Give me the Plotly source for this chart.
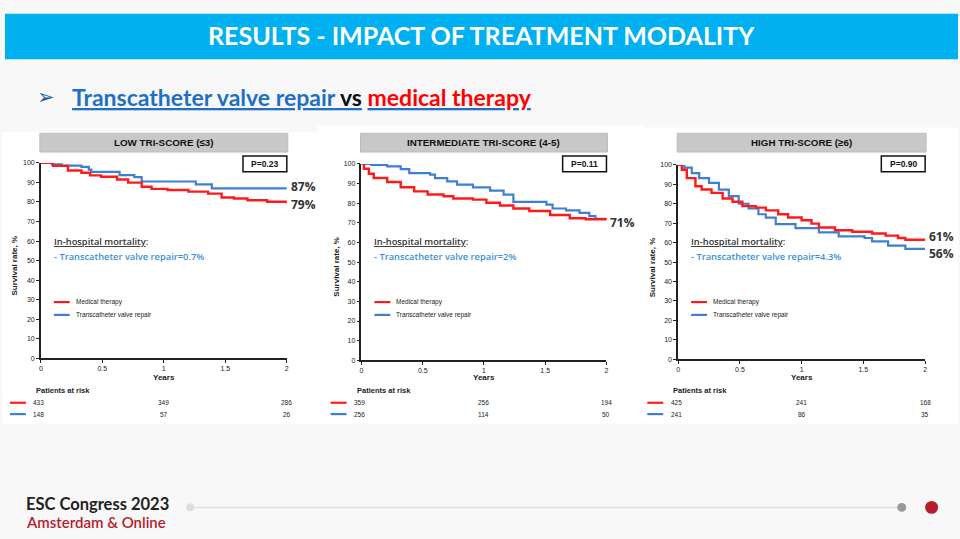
import plotly.graph_objects as go

W, H = 960, 539

# ---------------- data ----------------
panel_titles = ["LOW TRI-SCORE (≤3)", "INTERMEDIATE TRI-SCORE (4-5)", "HIGH TRI-SCORE (≥6)"]
p_values = ["P=0.23", "P=0.11", "P=0.90"]
inhosp_mortality = ["0.7%", "2%", "4.3%"]

# Low TRI-SCORE
low_med_t = [0, 0.10, 0.22, 0.33, 0.40, 0.49, 0.62, 0.71, 0.82, 0.90, 1.03, 1.20, 1.36, 1.47, 1.57, 1.68, 1.84, 2.0]
low_med_s = [100, 98.5, 96.1, 95.0, 93.6, 92.9, 91.5, 89.9, 87.8, 86.7, 86.1, 85.3, 84.3, 82.3, 81.8, 80.9, 80.1, 79.3]
low_tvr_t = [0, 0.09, 0.17, 0.33, 0.39, 0.41, 0.64, 0.76, 0.82, 1.26, 1.39, 2.0]
low_tvr_s = [100, 99.2, 98.6, 98.0, 96.6, 95.4, 93.7, 92.7, 90.5, 89.0, 87.0, 87.0]

# Intermediate TRI-SCORE
int_med_t = [0, 0.02, 0.06, 0.10, 0.21, 0.32, 0.43, 0.54, 0.67, 0.75, 0.91, 1.02, 1.13, 1.24, 1.37, 1.54, 1.70, 1.83, 2.0]
int_med_s = [100, 97.5, 95.0, 92.8, 90.8, 88.1, 86.0, 84.4, 83.5, 82.4, 81.8, 80.2, 78.8, 77.3, 76.0, 74.0, 72.3, 71.8, 71.4]
int_tvr_t = [0, 0.08, 0.21, 0.32, 0.39, 0.56, 0.60, 0.70, 0.78, 0.91, 1.05, 1.16, 1.24, 1.51, 1.56, 1.67, 1.78, 1.86, 1.91, 2.0]
int_tvr_s = [100, 99.5, 98.7, 97.3, 95.3, 94.5, 92.8, 91.1, 89.4, 88.0, 86.4, 84.4, 80.7, 79.3, 77.3, 76.3, 75.1, 73.4, 72.0, 71.6]

# High TRI-SCORE
high_med_t = [0, 0.03, 0.07, 0.14, 0.19, 0.27, 0.36, 0.44, 0.52, 0.63, 0.71, 0.81, 0.89, 1.00, 1.08, 1.14, 1.27, 1.41, 1.57, 1.68, 1.78, 1.84, 2.0]
high_med_s = [100, 97.5, 93.2, 89.0, 87.3, 85.6, 82.7, 81.0, 78.8, 78.0, 76.6, 74.6, 72.9, 71.5, 69.8, 67.8, 66.4, 65.6, 64.7, 63.6, 62.4, 61.5, 61.2]
high_tvr_t = [0, 0.05, 0.11, 0.17, 0.25, 0.33, 0.41, 0.49, 0.57, 0.65, 0.71, 0.79, 0.95, 1.14, 1.30, 1.51, 1.57, 1.70, 1.84, 2.0]
high_tvr_s = [100, 98.6, 95.8, 93.2, 90.7, 87.3, 83.9, 80.0, 77.6, 74.6, 72.9, 69.5, 67.5, 65.3, 63.2, 62.4, 60.7, 58.5, 56.8, 56.6]

end_labels_med = ["79%", "71%", "61%"]
end_labels_tvr = ["87%", None, "56%"]

risk_times = [0, 1, 2]
risk_med = [[433, 349, 286], [359, 256, 194], [425, 241, 168]]
risk_tvr = [[148, 57, 26], [256, 114, 50], [241, 86, 35]]

x_ticks = [0, 0.5, 1, 1.5, 2]
x_tick_text = ["0", "0.5", "1", "1.5", "2"]
y_ticks = list(range(0, 101, 10))

# ---------------- styles / layout helpers ----------------
RED = "#ff1a1a"
BLUE = "#3f7fd0"
LBLUE = "#3b8fd6"
series = [
    (low_med_t, low_med_s, low_tvr_t, low_tvr_s),
    (int_med_t, int_med_s, int_tvr_t, int_tvr_s),
    (high_med_t, high_med_s, high_tvr_t, high_tvr_s),
]
# plot-area pixel boxes: (x0, x1, ytop, ybottom)
boxes = [(39, 286, 161, 359), (361, 607, 162, 361), (679, 927, 163, 360)]
# vertical pixel nudges of end labels (med, tvr) so they don't collide
label_shift = [(-1.5, 1.5), (-2, 0), (4, -4)]

def px(x):
    return x / W

def py(y):
    return 1 - y / H

fig = go.Figure()
shapes = []
annotations = []

# slide background panels
shapes.append(dict(type="rect", xref="paper", yref="paper", x0=px(0), x1=px(317), y0=py(425), y1=py(130),
                   fillcolor="white", line=dict(width=0), layer="below"))
shapes.append(dict(type="rect", xref="paper", yref="paper", x0=px(317), x1=px(645), y0=py(425), y1=py(123),
                   fillcolor="white", line=dict(width=0), layer="below"))
shapes.append(dict(type="rect", xref="paper", yref="paper", x0=px(645), x1=px(960), y0=py(425), y1=py(125),
                   fillcolor="white", line=dict(width=0), layer="below"))

# title bar
shapes.append(dict(type="rect", xref="paper", yref="paper", x0=px(3), x1=px(960), y0=py(56), y1=py(10),
                   fillcolor="#00b0f0", line=dict(width=0), layer="below"))
annotations.append(dict(xref="paper", yref="paper", x=px(482), y=py(31), text="<b>RESULTS - IMPACT OF TREATMENT MODALITY</b>",
                        showarrow=False, xanchor="center", yanchor="middle",
                        font=dict(family="Lato", size=25, color="white")))

# subtitle
annotations.append(dict(xref="paper", yref="paper", x=px(33), y=py(94), text="➢", showarrow=False,
                        xanchor="left", yanchor="middle", font=dict(family="DejaVu Sans", size=21, color="#1f5fa8")))
annotations.append(dict(xref="paper", yref="paper", x=px(68), y=py(94),
                        text=("<b><u><span style='color:#1f6fc6'>Transcatheter valve repair </span></u>"
                              "<u><span style='color:#111111'>vs</span></u> "
                              "<u><span style='color:#ff0000'>medical therapy</span></u></b>"),
                        showarrow=False, xanchor="left", yanchor="middle",
                        font=dict(family="Lato", size=23, color="#1f6fc6")))

for i, (mt, ms, tt, ts) in enumerate(series):
    x0, x1, yt, yb = boxes[i]
    n = "" if i == 0 else str(i + 1)
    xa, ya = "x" + n, "y" + n
    fig.add_trace(go.Scatter(x=tt, y=ts, mode="lines", line=dict(color=BLUE, width=2.2, shape="hv"),
                             xaxis=xa, yaxis=ya, showlegend=False, hoverinfo="skip"))
    fig.add_trace(go.Scatter(x=mt, y=ms, mode="lines", line=dict(color=RED, width=2.4, shape="hv"),
                             xaxis=xa, yaxis=ya, showlegend=False, hoverinfo="skip"))
    axis_common = dict(showgrid=False, zeroline=False, showline=True, linecolor="#222", linewidth=1.5,
                       ticks="outside", ticklen=3, tickwidth=1, tickcolor="#222",
                       tickfont=dict(family="Liberation Sans", size=7, color="#222"))
    fig.update_layout(**{
        ("xaxis" + n): dict(domain=[px(x0), px(x1)], range=[0, 2], tickvals=x_ticks, ticktext=x_tick_text,
                            anchor=ya, fixedrange=True, **axis_common),
        ("yaxis" + n): dict(domain=[py(yb), py(yt)], range=[0, 100], tickvals=y_ticks,
                            anchor=xa, fixedrange=True, **axis_common),
    })
    # axis titles
    annotations.append(dict(xref="paper", yref="paper", x=px((x0 + x1) / 2), y=py(378), text="<b>Years</b>",
                            showarrow=False, xanchor="center", yanchor="middle",
                            font=dict(family="Liberation Sans", size=8, color="#222")))
    annotations.append(dict(xref="paper", yref="paper", x=px(x0 - 26), y=py((yt + yb) / 2 + 5),
                            text="<b>Survival rate, %</b>", textangle=-90,
                            showarrow=False, xanchor="center", yanchor="middle",
                            font=dict(family="Liberation Sans", size=8, color="#222")))
    # header bar
    shapes.append(dict(type="rect", xref="paper", yref="paper", x0=px(x0 - 1), x1=px(x1 + 1), y0=py(150), y1=py(131),
                       fillcolor="#c8c8c8", line=dict(color="#bdbdbd", width=1)))
    annotations.append(dict(xref="paper", yref="paper", x=px((x0 + x1) / 2), y=py(140.5),
                            text="<b>" + panel_titles[i] + "</b>", showarrow=False,
                            xanchor="center", yanchor="middle",
                            font=dict(family="Liberation Sans", size=9.8, color="#111")))
    # P box
    shapes.append(dict(type="rect", xref="paper", yref="paper", x0=px(x1 - 44), x1=px(x1), y0=py(170), y1=py(154),
                       fillcolor="white", line=dict(color="#111", width=1.5)))
    annotations.append(dict(xref="paper", yref="paper", x=px(x1 - 22), y=py(162),
                            text="<b>" + p_values[i] + "</b>", showarrow=False,
                            xanchor="center", yanchor="middle",
                            font=dict(family="Liberation Sans", size=8.5, color="#111")))
    # end labels
    for lab, val, sh in ((end_labels_med[i], ms[-1], label_shift[i][0]), (end_labels_tvr[i], ts[-1], label_shift[i][1])):
        if lab is None:
            continue
        annotations.append(dict(xref=xa, yref=ya, x=2, y=val, text="<b>" + lab + "</b>", showarrow=False,
                                xanchor="left", yanchor="middle", xshift=3, yshift=sh, borderpad=0,
                                font=dict(family="Open Sans", size=12, color="#333")))
    # in-hospital mortality text
    annotations.append(dict(xref="paper", yref="paper", x=px(x0 + 11), y=py(240.5),
                            text="<u>In-hospital mortality</u>:", showarrow=False,
                            xanchor="left", yanchor="middle",
                            font=dict(family="Open Sans", size=9.3, color="#333", weight=600)))
    annotations.append(dict(xref="paper", yref="paper", x=px(x0 + 11), y=py(256),
                            text="- Transcatheter valve repair=" + inhosp_mortality[i], showarrow=False,
                            xanchor="left", yanchor="middle",
                            font=dict(family="Open Sans", size=9.3, color=LBLUE, weight=600)))
    # legend
    for j, (lab, col, yy) in enumerate((("Medical therapy", RED, 302), ("Transcatheter valve repair", BLUE, 315))):
        shapes.append(dict(type="line", xref="paper", yref="paper", x0=px(x0 + 13), x1=px(x0 + 29),
                           y0=py(yy), y1=py(yy), line=dict(color=col, width=2.2)))
        annotations.append(dict(xref="paper", yref="paper", x=px(x0 + 33), y=py(yy), text=lab, showarrow=False,
                                xanchor="left", yanchor="middle",
                                font=dict(family="Liberation Sans", size=6.5, color="#222")))
    # patients at risk
    annotations.append(dict(xref="paper", yref="paper", x=px(x0 - 7), y=py(392), text="<b>Patients at risk</b>",
                            showarrow=False, xanchor="left", yanchor="middle",
                            font=dict(family="Liberation Sans", size=7.5, color="#222")))
    for row, col, yy in ((risk_med[i], RED, 404), (risk_tvr[i], BLUE, 415.5)):
        shapes.append(dict(type="line", xref="paper", yref="paper", x0=px(x0 - 31), x1=px(x0 - 15),
                           y0=py(yy), y1=py(yy), line=dict(color=col, width=2.2)))
        for t, v in zip(risk_times, row):
            annotations.append(dict(xref=xa, yref="paper", x=t, y=py(yy), text=str(v), showarrow=False,
                                    xanchor="center", yanchor="middle", xshift=-2 if t == 0 else 0,
                                    font=dict(family="Liberation Sans", size=6.5, color="#222")))

# footer
annotations.append(dict(xref="paper", yref="paper", x=px(22), y=py(507), text="<b>ESC Congress 2023</b>",
                        showarrow=False, xanchor="left", yanchor="middle",
                        font=dict(family="Lato", size=16.5, color="#222")))
annotations.append(dict(xref="paper", yref="paper", x=px(22), y=py(525), text="Amsterdam & Online",
                        showarrow=False, xanchor="left", yanchor="middle",
                        font=dict(family="Lato", size=15, color="#b71c2c", weight=600)))
shapes.append(dict(type="line", xref="paper", yref="paper", x0=px(189), x1=px(904), y0=py(510), y1=py(510),
                   line=dict(color="#e0e0e0", width=1.5)))
shapes.append(dict(type="circle", xref="paper", yref="paper", x0=px(185), x1=px(193), y0=py(514), y1=py(506),
                   fillcolor="#dddddd", line=dict(width=0)))
shapes.append(dict(type="circle", xref="paper", yref="paper", x0=px(899), x1=px(908), y0=py(514.5), y1=py(505.5),
                   fillcolor="#999999", line=dict(width=0)))
shapes.append(dict(type="circle", xref="paper", yref="paper", x0=px(927), x1=px(940), y0=py(516.5), y1=py(503.5),
                   fillcolor="#b71c2c", line=dict(width=0)))

fig.update_layout(width=W, height=H, margin=dict(l=0, r=0, t=0, b=0),
                  paper_bgcolor="#f8f8f8", plot_bgcolor="rgba(0,0,0,0)",
                  shapes=shapes, annotations=annotations, showlegend=False)

fig.write_html("out.html", config={"displayModeBar": False})
